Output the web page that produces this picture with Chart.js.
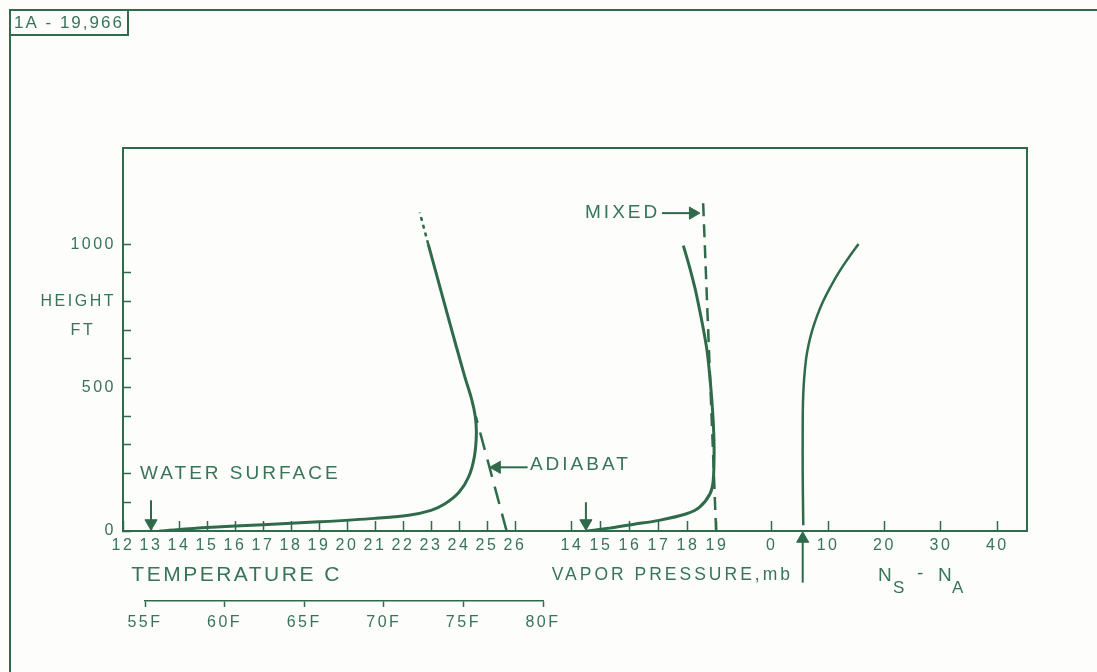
<!DOCTYPE html>
<html>
<head>
<meta charset="utf-8">
<script src="https://cdn.jsdelivr.net/npm/chart.js@4.4.1/dist/chart.umd.min.js"></script>
<style>
  html, body { margin: 0; padding: 0; background: #fdfdfb; }
  #wrap { width: 1097px; height: 672px; }
</style>
</head>
<body>
<div id="wrap"><canvas id="chart" width="1097" height="672"></canvas></div>
<script>
// heights in feet
const tempHeight = [0, 12, 22, 32, 44, 55, 72, 95, 135, 190, 260, 340, 400, 460, 540, 750, 1000];
const tempC      = [13.3, 15.0, 17.0, 19.0, 21.0, 22.2, 23.0, 23.5, 24.0, 24.35, 24.55, 24.62, 24.58, 24.45, 24.2, 23.6, 22.9];
const tempExtHeight = [1000, 1110];
const tempExtC      = [22.9, 22.6];
const adiabatHeight = [0, 400];
const adiabatC      = [25.7, 24.6];

const vpHeight = [0, 10, 23, 37, 60, 83, 130, 176, 290, 400, 520, 640, 820, 910, 995];
const vpMb     = [14.5, 15.3, 16.1, 17.0, 17.95, 18.4, 18.76, 18.87, 18.9, 18.86, 18.77, 18.64, 18.3, 18.08, 17.84];
const mixedHeight = [0, 1150];
const mixedMb     = [18.97, 18.52];

const nsHeight = [20, 200, 350, 450, 530, 600, 650, 700, 750, 800, 850, 900, 950, 1000];
const nsDiff   = [5.6, 5.5, 5.5, 5.55, 5.75, 6.1, 6.55, 7.2, 8.05, 9.1, 10.4, 11.85, 13.55, 15.4];

// arrows (value, height)
const waterArrowC = [13, 13],       waterArrowH = [107, 27];
const vpArrowMb = [14.48, 14.48],   vpArrowH = [100, 27];
const adiabatArrowC = [26.45, 25.35], adiabatArrowH = [222, 222];
const mixedArrowMb = [17.1, 18.17], mixedArrowH = [1108, 1108];
const nsArrow = [5.5, 5.5],         nsArrowH = [-180, -27];

// tick labels
const tempTicks = [12, 13, 14, 15, 16, 17, 18, 19, 20, 21, 22, 23, 24, 25, 26];
const vpTicks = [14, 15, 16, 17, 18, 19];
const nsTicks = [0, 10, 20, 30, 40];
const fahrTicks = [55, 60, 65, 70, 75, 80];
const heightTicks = [0, 100, 200, 300, 400, 500, 600, 700, 800, 900, 1000];
const heightLabels = {0: '0', 500: '500', 700: 'FT   ', 800: 'HEIGHT', 1000: '1000'};

const ink = '#2f6b4b';
const labelInk = '#37745a';
const paper = '#fdfdfb';
const family = '"Liberation Sans", Arial, sans-serif';

const notes = [
  {text: 'WATER SURFACE', scale: 'xT', x: 12.61, y: 199, size: 19},
  {text: 'ADIABAT', scale: 'xV', x: 12.55, y: 230, size: 19},
  {text: 'MIXED', scale: 'xV', x: 14.45, y: 1108, size: 19},
  {text: 'VAPOR PRESSURE,mb', scale: 'xV', x: 13.3, y: -155, size: 17.5}
];

function pts(xs, ys) {
  return xs.map((x, i) => ({x: x, y: ys[i]}));
}

function curve(xs, ys, axis, extra) {
  return Object.assign({
    data: pts(xs, ys), xAxisID: axis, yAxisID: 'y',
    borderColor: ink, borderWidth: 3, pointRadius: 0, tension: 0.3, fill: false
  }, extra);
}

function arrow(xs, ys, axis, rot) {
  return curve(xs, ys, axis, {
    borderWidth: 2, tension: 0, pointRadius: [0, 7], pointStyle: 'triangle',
    rotation: rot, pointBackgroundColor: ink, pointBorderColor: ink, pointBorderWidth: 1, clip: false
  });
}

function fixedTicks(list) {
  return s => { s.ticks = list.map(v => ({value: v})); };
}

const frame = {
  id: 'frame',
  beforeDraw(chart) {
    const {ctx, chartArea: a} = chart;
    ctx.save();
    ctx.fillStyle = paper;
    ctx.fillRect(0, 0, chart.width, chart.height);
    ctx.strokeStyle = ink;
    ctx.lineWidth = 2;
    ctx.beginPath();
    ctx.moveTo(10, 672); ctx.lineTo(10, 10); ctx.lineTo(1097, 10);
    ctx.stroke();
    ctx.strokeRect(10, 10, 118, 25);
    ctx.beginPath();
    ctx.moveTo(a.left, a.top); ctx.lineTo(a.right, a.top); ctx.lineTo(a.right, a.bottom);
    ctx.stroke();
    ctx.fillStyle = labelInk;
    ctx.font = '17px ' + family;
    ctx.textBaseline = 'middle';
    ctx.letterSpacing = '2px';
    ctx.fillText('1A - 19,966', 14, 23);
    ctx.restore();
    ctx.letterSpacing = '2.5px';
  },
  afterDatasetsDraw(chart) {
    const {ctx, scales} = chart;
    ctx.save();
    ctx.fillStyle = labelInk;
    ctx.textBaseline = 'middle';
    ctx.textAlign = 'left';
    ctx.letterSpacing = '3px';
    notes.forEach(n => {
      ctx.font = n.size + 'px ' + family;
      ctx.fillText(n.text, scales[n.scale].getPixelForValue(n.x), scales.y.getPixelForValue(n.y));
    });
    // N_S - N_A
    const x0 = scales.xN.getPixelForValue(18.85);
    const y0 = scales.y.getPixelForValue(-155);
    ctx.letterSpacing = '0px';
    ctx.font = '19px ' + family;
    ctx.fillText('N', x0, y0);
    ctx.fillText('-', x0 + 39, y0 - 2);
    ctx.fillText('N', x0 + 60, y0);
    ctx.font = '17px ' + family;
    ctx.fillText('S', x0 + 15, y0 + 13);
    ctx.fillText('A', x0 + 74, y0 + 13);
    ctx.restore();
  },
  afterDraw(chart) {
    chart.ctx.letterSpacing = '0px';
  }
};

Chart.defaults.font.family = family;
Chart.defaults.color = labelInk;

const bottomAxis = (stack, weight, min, max, ticks, h) => ({
  type: 'linear', axis: 'x', position: 'bottom', stack: stack, stackWeight: weight,
  min: min, max: max,
  afterFit: s => { s.height = h; },
  afterBuildTicks: fixedTicks(ticks),
  grid: {drawOnChartArea: false, tickLength: -10, tickColor: ink, tickWidth: 1.5},
  border: {color: ink, width: 2},
  ticks: {padding: 15, autoSkip: false, maxRotation: 0, minRotation: 0, font: {size: 16}}
});

const xT = bottomAxis('main', 399, 12, 26.25, tempTicks, 70);
xT.title = {display: true, text: ' TEMPERATURE C', align: 'start', font: {size: 21}, padding: {top: 0, bottom: 13}};
const xV = bottomAxis('main', 248, 12.276, 20.828, vpTicks, 70);
const xN = bottomAxis('main', 257, -0.30, 45.27, nsTicks, 70);

const filler = weight => ({
  type: 'linear', axis: 'x', position: 'bottom', stack: 'fahr', stackWeight: weight, weight: 1,
  display: false, min: 0, max: 1, afterFit: s => { s.height = 41; }
});

new Chart(document.getElementById('chart'), {
  type: 'line',
  data: {
    datasets: [
      curve(tempC, tempHeight, 'xT'),
      curve(tempExtC, tempExtHeight, 'xT', {borderWidth: 2.5, borderDash: [4, 4], tension: 0}),
      curve(adiabatC, adiabatHeight, 'xT', {borderWidth: 2.5, borderDash: [18, 10], tension: 0}),
      curve(vpMb, vpHeight, 'xV'),
      curve(mixedMb, mixedHeight, 'xV', {borderWidth: 2.5, borderDash: [13, 8], tension: 0}),
      curve(nsDiff, nsHeight, 'xN', {borderWidth: 2.5, tension: 0.4}),
      arrow(waterArrowC, waterArrowH, 'xT', 180),
      arrow(vpArrowMb, vpArrowH, 'xV', 180),
      arrow(adiabatArrowC, adiabatArrowH, 'xT', 270),
      arrow(mixedArrowMb, mixedArrowH, 'xV', 90),
      arrow(nsArrow, nsArrowH, 'xN', 0)
    ]
  },
  options: {
    responsive: false,
    animation: false,
    devicePixelRatio: 1,
    layout: {padding: {left: 10, right: 70, top: 148, bottom: 30}},
    plugins: {legend: {display: false}, tooltip: {enabled: false}},
    scales: {
      y: {
        type: 'linear', position: 'left', min: 0, max: 1335,
        afterFit: s => { s.width = 113; },
        afterBuildTicks: fixedTicks(heightTicks),
        grid: {drawOnChartArea: false, tickLength: -8, tickColor: ink, tickWidth: 1.5},
        border: {color: ink, width: 2},
        ticks: {padding: 15, autoSkip: false, font: {size: 16}, callback: v => heightLabels[v] || ''}
      },
      xT: xT,
      xV: xV,
      xN: xN,
      f1: filler(22),
      xF: {
        type: 'linear', axis: 'x', position: 'bottom', stack: 'fahr', stackWeight: 398, weight: 1,
        min: 55, max: 80,
        afterFit: s => { s.height = 41; },
        afterBuildTicks: fixedTicks(fahrTicks),
        grid: {drawOnChartArea: false, tickLength: 6, tickColor: ink, tickWidth: 1.5},
        border: {color: ink, width: 1.5},
        ticks: {padding: 6, autoSkip: false, maxRotation: 0, font: {size: 16}, callback: v => v + 'F'}
      },
      f2: filler(484)
    }
  },
  plugins: [frame]
});
</script>
</body>
</html>
